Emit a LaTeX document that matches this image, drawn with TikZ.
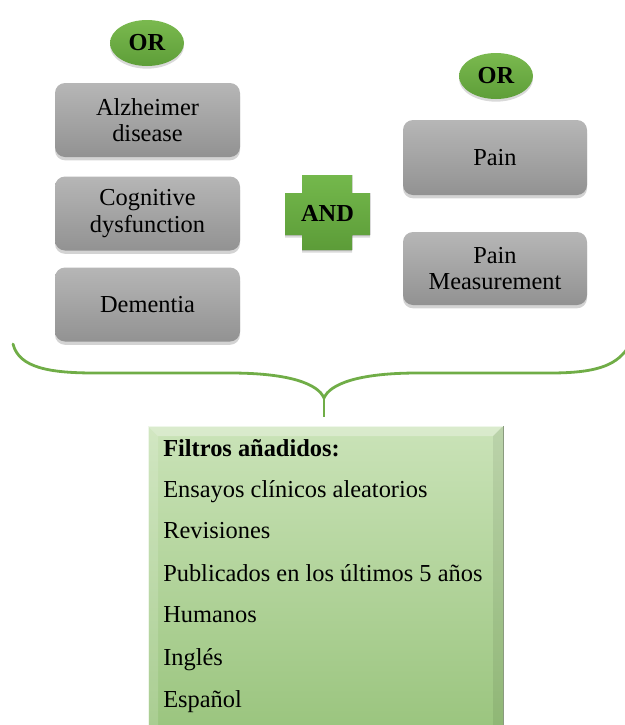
\documentclass[tikz,border=0pt]{standalone}
\usepackage{fontspec}
\setmainfont{Liberation Serif}
\usetikzlibrary{shadows,shapes.geometric}
\newdimen\px \px=0.75pt
\definecolor{grayTop}{HTML}{B6B6B6}
\definecolor{grayBot}{HTML}{929292}
\definecolor{ovalTop}{HTML}{7AB94F}
\definecolor{ovalBot}{HTML}{5E9E38}
\definecolor{crossTop}{HTML}{74B84C}
\definecolor{crossBot}{HTML}{5C9C38}
\definecolor{braceGreen}{HTML}{70AD47}
\definecolor{boxTop}{HTML}{CAE3B8}
\definecolor{boxBot}{HTML}{9BC57F}
\begin{document}
\begin{tikzpicture}[x=0.75pt,y=-0.75pt,
  term/.style={rectangle, rounded corners=10\px, minimum width=185\px, minimum height=74\px,
    top color=grayTop, bottom color=grayBot, draw=none,
    drop shadow={shadow xshift=0pt, shadow yshift=-2.5pt, opacity=0.35},
    align=center, font=\fontsize{18.3}{20}\selectfont, inner sep=0pt},
  oper/.style={ellipse, minimum width=74\px, minimum height=46\px, inner sep=0pt,
    top color=ovalTop, bottom color=ovalBot, draw=none,
    drop shadow={shadow xshift=0pt, shadow yshift=-2pt, opacity=0.3},
    font=\fontsize{18.3}{20}\selectfont\bfseries},
  filt/.style={anchor=west, inner sep=0pt, text height=12.5pt, text depth=4pt,
    font=\fontsize{18.3}{20}\selectfont},
  brace/.style={draw=braceGreen, line width=2.8\px, line cap=round}
]
\useasboundingbox (0,0) rectangle (625,725);

% OR operators
\node[oper] (or1) at (147,43) {OR};
\node[oper] (or2) at (496,76) {OR};

% left terms
\node[term] (alz) at (147.5,120) {Alzheimer\\disease};
\node[term] (cog) at (147.5,213.5) {Cognitive\\dysfunction};
\node[term] (dem) at (147.5,304.5) {Dementia};

% right terms
\node[term, minimum width=184\px, minimum height=75\px] (pain) at (495,157.5) {Pain};
\node[term, minimum width=184\px, minimum height=73\px] (painm) at (495,268.5) {Pain\\Measurement};

% AND cross
\fill[top color=crossTop, bottom color=crossBot,
      drop shadow={shadow xshift=0pt, shadow yshift=-2pt, opacity=0.3}]
  (302,175) -- (352,175) -- (352,193) -- (370,193) -- (370,235) -- (352,235)
  -- (352,250) -- (302,250) -- (302,235) -- (285,235) -- (285,193) -- (302,193) -- cycle;
\node[font=\fontsize{18.3}{20}\selectfont\bfseries, inner sep=0pt] (and) at (327.5,213) {AND};

% brace
\coordinate (bl) at (13,344);
\coordinate (br) at (627,349);
\coordinate (cusp) at (324,398);
\coordinate (stem) at (324,417);
\draw[brace] (bl) .. controls (19,368) and (50,373) .. (95,373) -- (230,373)
  .. controls (290,373) and (318,384) .. (cusp)
  .. controls (330,384) and (358,373) .. (418,373) -- (550,373)
  .. controls (595,373) and (615,366) .. (br);
\draw[brace, line cap=butt] (cusp) -- (stem);

% filter box
\node[rectangle, minimum width=355\px, minimum height=300\px, inner sep=0pt,
      top color=boxTop, bottom color=boxBot, draw=none] (filters) at (325.5,576) {};
\fill[white, opacity=0.3] (148,426) -- (503,426) -- (493,436) -- (158,436) -- cycle;
\fill[white, opacity=0.15] (148,426) -- (158,436) -- (158,726) -- (148,726) -- cycle;
\fill[black, opacity=0.07] (503,426) -- (493,436) -- (493,726) -- (503,726) -- cycle;
\draw[white!70!boxTop, line width=0.8\px] (148,726) -- (148,426) -- (503,426);
\draw[gray!60!boxBot, line width=0.8\px] (503,426) -- (503,726);

\node[filt, font=\fontsize{18.3}{20}\selectfont\bfseries] (f1) at (163,451) {Filtros añadidos:};
\node[filt] (f2) at (163,492) {Ensayos clínicos aleatorios};
\node[filt] (f3) at (163,533) {Revisiones};
\node[filt] (f4) at (163,576) {Publicados en los últimos 5 años};
\node[filt] (f5) at (163,617) {Humanos};
\node[filt] (f6) at (163,660) {Inglés};
\node[filt] (f7) at (163,702) {Español};
\end{tikzpicture}
\end{document}
